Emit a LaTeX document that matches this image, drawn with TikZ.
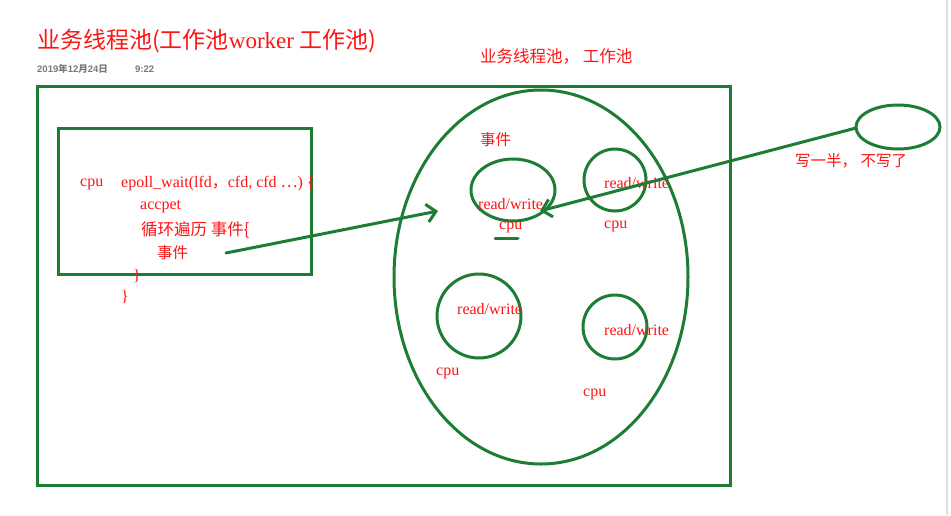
\documentclass[tikz,border=0pt]{standalone}
\usepackage{fontspec}
\setmainfont{Liberation Serif}
\newfontfamily\cjk{Noto Sans CJK SC}
\newfontfamily\sansf{Liberation Sans}
\usetikzlibrary{arrows.meta}
\definecolor{pen}{RGB}{30,125,52}
\definecolor{ink}{RGB}{255,20,20}
\definecolor{datec}{RGB}{120,120,120}
\tikzset{
  stroke/.style={draw=pen, line width=3pt},
  txt/.style={text=ink, inner sep=0pt, anchor=west, font=\fontsize{16}{18}\selectfont},
  cjktxt/.style={text=ink, inner sep=0pt, anchor=west, font=\cjk\fontsize{15.5}{18}\selectfont},
  openarrow/.style={stroke, line cap=round, -{Straight Barb[length=9pt,width=18pt,line width=3pt]}}
}
\begin{document}
\begin{tikzpicture}[x=1pt,y=-1pt]
\useasboundingbox[fill=white] (0,0) rectangle (951,515);
% right gray edge
\fill[gray!25] (945.5,0) rectangle (947.5,515);
% title
\node[text=ink, inner sep=0pt, anchor=west] (title) at (37,41)
  {\fontsize{23}{26}\selectfont{\cjk 业务线程池(工作池}worker {\cjk 工作池)}};
\node[text=datec, inner sep=0pt, anchor=west] (date) at (37,69)
  {\sansf\bfseries\fontsize{9.5}{11}\selectfont 2019{\cjk 年}12{\cjk 月}24{\cjk 日}};
\node[text=datec, inner sep=0pt, anchor=west] (time) at (135,69)
  {\sansf\bfseries\fontsize{9.5}{11}\selectfont 9:22};
% frames
\draw[stroke] (37,86) rectangle (730,485);
\draw[stroke] (58,128) rectangle (311,274);
% left code text
\node[txt] (cpu0) at (80,184) {cpu};
\node[txt] (epoll) at (121,184) {epoll\_wait(lfd{\cjk ，}cfd, cfd {\cjk …}) \{};
\node[txt] (accpet) at (140,207) {accpet};
\node[cjktxt, font=\cjk\fontsize{16.5}{18}\selectfont] (loop) at (141,230) {循环遍历 事件\{};
\node[cjktxt] (evt) at (157,253) {事件};
\node[txt] (br1) at (133,276) {\}};
\node[txt] (br2) at (121,297) {\}};
% pool
\node[cjktxt, font=\cjk\fontsize{16.5}{18}\selectfont] (pooltitle) at (480,56) {业务线程池， 工作池};
\draw[stroke] (541,277) ellipse [x radius=147, y radius=187];
\node[cjktxt] (evt2) at (480,140) {事件};
% workers
\draw[stroke] (513,190) ellipse [x radius=42, y radius=31];
\node[txt] (rw1) at (478,204) {read/write};
\node[txt] (cpu1) at (499,227) {cpu};
\draw[stroke, line cap=round] (495,238) -- (518,238);
\draw[stroke] (615,180) circle [radius=31];
\node[txt] (rw2) at (604,183) {read/write};
\node[txt] (cpu2) at (604,226) {cpu};
\draw[stroke] (479,316) circle [radius=42];
\node[txt] (rw3) at (457,309) {read/write};
\node[txt] (cpu3) at (436,373) {cpu};
\draw[stroke] (615,327) circle [radius=32];
\node[txt] (rw4) at (604,330) {read/write};
\node[txt] (cpu4) at (583,394) {cpu};
% note ellipse
\draw[stroke] (898,127) ellipse [x radius=42, y radius=22];
\coordinate (noteL) at (856,128);
\node[cjktxt] (note) at (795,161) {写一半， 不写了};
% arrows
\coordinate (a1s) at (226,253);
\coordinate (a1e) at (438,211);
\draw[openarrow] (a1s) -- (a1e);
\coordinate (a2e) at (540,211);
\draw[openarrow] (noteL) -- (a2e);
\end{tikzpicture}
\end{document}
